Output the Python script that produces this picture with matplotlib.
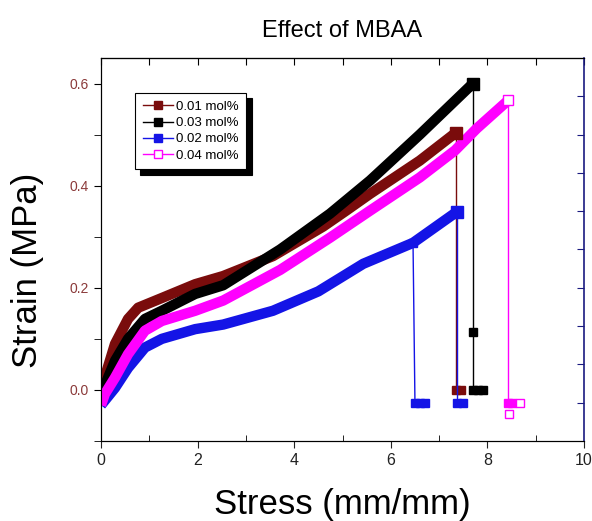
import numpy as np
import matplotlib
matplotlib.use('Agg')
from matplotlib import pyplot as plt

plt.rcParams['font.family'] = ['Liberation Sans', 'DejaVu Sans']

labels = ['0.01 mol%', '0.03 mol%', '0.02 mol%', '0.04 mol%']
colors = ['#7a0c0c', '#000000', '#1414e6', '#ff00ff']

# curve part of each test (stress, strain)
x_01 = [0.0, 0.29, 0.56, 0.77, 1.26, 1.95, 2.53, 3.56, 4.6, 5.09, 5.57, 6.6, 7.35]
y_01 = [0.0, 0.09, 0.139, 0.161, 0.18, 0.207, 0.223, 0.262, 0.32, 0.352, 0.384, 0.449, 0.504]
x_03 = [0.0, 0.29, 0.56, 0.91, 1.26, 1.95, 2.53, 3.71, 4.74, 5.57, 6.6, 7.7]
y_03 = [-0.01, 0.057, 0.1, 0.139, 0.155, 0.188, 0.205, 0.275, 0.345, 0.41, 0.5, 0.6]
x_02 = [0.0, 0.29, 0.56, 0.91, 1.26, 1.95, 2.53, 3.56, 4.5, 5.43, 6.46, 7.37]
y_02 = [-0.03, 0.004, 0.043, 0.083, 0.1, 0.119, 0.128, 0.155, 0.193, 0.247, 0.288, 0.349]
x_04 = [0.0, 0.08, 0.29, 0.56, 0.91, 1.26, 1.95, 2.53, 3.71, 4.74, 5.57, 6.6, 7.33, 7.78, 8.43]
y_04 = [-0.03, -0.008, 0.024, 0.07, 0.116, 0.135, 0.155, 0.175, 0.235, 0.298, 0.351, 0.416, 0.469, 0.512, 0.567]

# break part (after failure)
bx_01 = [7.35, 7.35, 7.45]
by_01 = [0.504, 0.0, 0.0]
bx_03 = [7.7, 7.7, 7.7, 7.8, 7.9]
by_03 = [0.6, 0.114, 0.0, 0.0, 0.0]
bx_02 = [7.37, 7.37, 7.5]
by_02 = [0.349, -0.025, -0.025]
bx_02b = [6.46, 6.5, 6.6, 6.7]
by_02b = [0.288, -0.025, -0.025, -0.025]
bx_04 = [8.43, 8.43, 8.5]
by_04 = [0.567, -0.025, -0.025]
ox_04 = [8.67, 8.45]
oy_04 = [-0.025, -0.047]

fig = plt.figure(figsize=(5.92, 5.21), dpi=100)
ax = fig.add_axes([0.1706, 0.1536, 0.8159, 0.7351])

curves = [(x_01, y_01), (x_03, y_03), (x_02, y_02), (x_04, y_04)]
breaks = [(bx_01, by_01), (bx_03, by_03), (bx_02, by_02), (bx_04, by_04)]

for (cx, cy), (bx, by), c in zip(curves, breaks, colors):
    ax.plot(cx, cy, color=c, lw=7.5, solid_capstyle='butt', solid_joinstyle='round', zorder=3)
    ax.plot(bx, by, color=c, lw=1, marker='s', ms=6, zorder=2)
ax.plot(bx_02b, by_02b, color=colors[2], lw=1, marker='s', ms=6, zorder=2)
ax.plot(ox_04, oy_04, ls='none', marker='s', ms=6, mfc='white', mec=colors[3], zorder=2)
ax.plot(x_03[-1], y_03[-1], marker='s', ms=8, color=colors[1], zorder=4)
ax.plot(x_01[-1], y_01[-1], marker='s', ms=8, color=colors[0], zorder=4)
ax.plot(x_02[-1], y_02[-1], marker='s', ms=8, color=colors[2], zorder=4)
ax.plot(x_04[-1], y_04[-1], marker='s', ms=7, mfc='white', mec=colors[3], zorder=4)

ax.set_xlim(0, 10)
ax.set_ylim(-0.1, 0.65)
ax.set_xticks([0, 2, 4, 6, 8, 10])
ax.set_xticks([1, 3, 5, 7, 9], minor=True)
ax.set_yticks([0.0, 0.2, 0.4, 0.6])
ax.set_yticks([-0.1, 0.1, 0.3, 0.5], minor=True)
ax.set_yticklabels(['0.0', '0.2', '0.4', '0.6'])
ax.tick_params(axis='x', which='major', direction='out', length=5, labelsize=11.5, colors='#222222')
ax.tick_params(axis='x', which='minor', direction='in', length=4)
ax.tick_params(axis='y', which='both', direction='out', length=5, labelsize=10, labelcolor='#8b3a3a')
ax.spines['right'].set_visible(False)

top = ax.secondary_xaxis('top')
top.set_xticks(range(0, 11))
top.tick_params(direction='in', length=5, labeltop=False)

rax = ax.twinx()
rax.set_ylim(0, 10)
rax.set_yticks(range(1, 10))
rax.tick_params(direction='in', length=5, labelright=False, colors='#1a1a80')
rax.spines['right'].set_color('#1a1a80')
rax.spines['right'].set_linewidth(1.2)

ax.set_xlabel('Stress (mm/mm)', fontsize=25, va='center')
ax.xaxis.set_label_coords(0.5, -0.167)
ax.set_ylabel('Strain (MPa)', fontsize=25, va='center')
ax.yaxis.set_label_coords(-0.153, 0.446)
ax.set_title('Effect of MBAA', fontsize=17, pad=15)

handles = []
for lab, c in zip(labels, colors):
    mfc = 'white' if c == '#ff00ff' else c
    h, = ax.plot([], [], color=c, lw=1, marker='s', ms=6, mfc=mfc, mec=c)
    handles.append(h)
leg = ax.legend(handles, labels, loc='upper left', bbox_to_anchor=(0.07, 0.909),
                borderaxespad=0, fontsize=9.5, handlelength=2.3, handletextpad=0.2,
                labelspacing=0.3, borderpad=0.6, frameon=True, fancybox=False, edgecolor='black',
                shadow={'color': 'black', 'alpha': 1, 'ox': 4, 'oy': -4})
leg.get_frame().set_linewidth(0.8)

plt.savefig('out.png', dpi=100)
